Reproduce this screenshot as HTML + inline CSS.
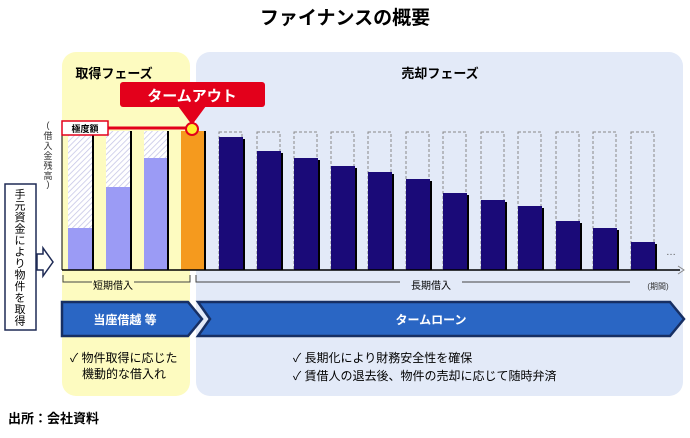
<!DOCTYPE html>
<html><head><meta charset="utf-8"><style>
body{margin:0;width:690px;height:433px;background:#fff;overflow:hidden;font-family:"Liberation Sans","Noto Sans CJK JP",sans-serif}
</style></head><body>
<svg width="690" height="433" viewBox="0 0 690 433" xmlns="http://www.w3.org/2000/svg" font-family="Liberation Sans, Noto Sans CJK JP, sans-serif">
<defs>
<pattern id="h" width="4" height="4" patternUnits="userSpaceOnUse" patternTransform="rotate(45)">
<rect width="4" height="4" fill="#fff"/><line x1="0" y1="0" x2="0" y2="4" stroke="#c4c4e6" stroke-width="1.5"/></pattern>
</defs>
<text x="345" y="24" text-anchor="middle" font-size="19" font-weight="bold">ファイナンスの概要</text>
<rect x="62" y="52" width="128" height="344" rx="14" fill="#fdfbc0"/>
<rect x="196" y="52" width="487" height="344" rx="14" fill="#e3eaf8"/>
<text x="114" y="78" text-anchor="middle" font-size="13" font-weight="bold">取得フェーズ</text>
<text x="440" y="78" text-anchor="middle" font-size="13" font-weight="bold">売却フェーズ</text>
<g font-size="9" fill="#333" text-anchor="middle">
<text x="48" y="128">(</text>
<text x="48" y="139">借</text><text x="48" y="149">入</text><text x="48" y="159">金</text><text x="48" y="169">残</text><text x="48" y="179">高</text><text x="48" y="187">)</text></g>
<line x1="62" y1="125" x2="62" y2="270" stroke="#000" stroke-width="1"/>
<rect x="68" y="131" width="24" height="139" fill="url(#h)"/><rect x="68" y="228" width="24" height="42" fill="#9b9bf5"/>
<rect x="106" y="131" width="24" height="139" fill="url(#h)"/><rect x="106" y="187" width="24" height="83" fill="#9b9bf5"/>
<rect x="144" y="131" width="23" height="139" fill="url(#h)"/><rect x="144" y="158" width="23" height="112" fill="#9b9bf5"/>
<rect x="181" y="131" width="23" height="139" fill="#f59a1e"/>
<g stroke="#000" stroke-width="2"><line x1="93" y1="131" x2="93" y2="270"/><line x1="131" y1="131" x2="131" y2="270"/><line x1="168" y1="131" x2="168" y2="270"/><line x1="205" y1="131" x2="205" y2="270"/></g>
<g fill="none" stroke="#888" stroke-dasharray="3,2">
<rect x="219" y="132" width="23" height="138"/><rect x="257" y="132" width="23" height="138"/><rect x="294" y="132" width="23" height="138"/><rect x="331" y="132" width="23" height="138"/><rect x="368" y="132" width="23" height="138"/><rect x="406" y="132" width="23" height="138"/><rect x="443" y="132" width="23" height="138"/><rect x="481" y="132" width="23" height="138"/><rect x="518" y="132" width="23" height="138"/><rect x="556" y="132" width="23" height="138"/><rect x="593" y="132" width="23" height="138"/><rect x="631" y="132" width="23" height="138"/></g>
<g fill="#000">
<rect x="221" y="139" width="24" height="131"/><rect x="259" y="153" width="24" height="117"/><rect x="296" y="160" width="24" height="110"/><rect x="333" y="168" width="24" height="102"/><rect x="370" y="174" width="24" height="96"/><rect x="408" y="181" width="24" height="89"/><rect x="445" y="195" width="24" height="75"/><rect x="483" y="202" width="24" height="68"/><rect x="520" y="208" width="24" height="62"/><rect x="558" y="223" width="24" height="47"/><rect x="595" y="230" width="24" height="40"/><rect x="633" y="244" width="24" height="26"/></g>
<g fill="#1a0a78">
<rect x="219" y="137" width="24" height="133"/><rect x="257" y="151" width="24" height="119"/><rect x="294" y="158" width="24" height="112"/><rect x="331" y="166" width="24" height="104"/><rect x="368" y="172" width="24" height="98"/><rect x="406" y="179" width="24" height="91"/><rect x="443" y="193" width="24" height="77"/><rect x="481" y="200" width="24" height="70"/><rect x="518" y="206" width="24" height="64"/><rect x="556" y="221" width="24" height="49"/><rect x="593" y="228" width="24" height="42"/><rect x="631" y="242" width="24" height="28"/></g>
<text x="666" y="255" font-size="10" fill="#555">…</text>
<line x1="62" y1="270" x2="680" y2="270" stroke="#000" stroke-width="1.5"/>
<path d="M678 266 L684 270 L678 274" fill="none" stroke="#888"/>
<line x1="108" y1="128" x2="190" y2="128" stroke="#e3001b" stroke-width="3"/>
<rect x="62" y="121" width="46" height="14" fill="#fff" stroke="#e3001b" stroke-width="1.5"/>
<text x="85" y="132" text-anchor="middle" font-size="9" font-weight="bold">極度額</text>
<rect x="120" y="82" width="145" height="25" rx="3" fill="#e3001b"/>
<path d="M178 106 L192 125 L206 106 Z" fill="#e3001b"/>
<circle cx="192" cy="129" r="6" fill="#ffee33" stroke="#e3001b" stroke-width="2"/>
<text x="192" y="101" text-anchor="middle" font-size="15" font-weight="bold" fill="#fff">タームアウト</text>
<g stroke="#444" fill="none" stroke-width="1">
<path d="M63 275 V282 H92 M134 282 H190 V275"/>
<path d="M196 275 V282 H400 M462 282 H630"/></g>
<text x="113" y="289" text-anchor="middle" font-size="10">短期借入</text>
<text x="431" y="289" text-anchor="middle" font-size="10">長期借入</text>
<text x="658" y="289" text-anchor="middle" font-size="8" fill="#333">(期間)</text>
<path d="M62 302 H188 L202 319 L188 336 H62 Z" fill="#2a66c4" stroke="#172f63" stroke-width="2.5"/>
<path d="M198 302 H670 L684 319 L670 336 H198 L210 319 Z" fill="#2a66c4" stroke="#172f63" stroke-width="2.5"/>
<text x="125" y="324" text-anchor="middle" font-size="12" font-weight="bold" fill="#fff">当座借越 等</text>
<text x="431" y="324" text-anchor="middle" font-size="12" font-weight="bold" fill="#fff">タームローン</text>
<text x="70" y="362" font-size="12">✓ 物件取得に応じた</text>
<text x="82" y="378" font-size="12">機動的な借入れ</text>
<text x="293" y="362" font-size="12">✓ 長期化により財務安全性を確保</text>
<text x="293" y="380" font-size="12">✓ 賃借人の退去後、物件の売却に応じて随時弁済</text>
<rect x="5" y="184" width="31" height="146" fill="#fff" stroke="#1e2a55" stroke-width="1.5"/>
<path d="M37 254 H43 V248 L53 262 L43 276 V270 H37 Z" fill="#fff" stroke="#1e2a55" stroke-width="1.5"/>
<g font-size="11" text-anchor="middle">
<text x="20" y="198">手</text><text x="20" y="209.5">元</text><text x="20" y="221">資</text><text x="20" y="232.5">金</text><text x="20" y="244">に</text><text x="20" y="255.5">よ</text><text x="20" y="267">り</text><text x="20" y="278.5">物</text><text x="20" y="290">件</text><text x="20" y="301.5">を</text><text x="20" y="313">取</text><text x="20" y="324.5">得</text></g>
<text x="8" y="423" font-size="13" font-weight="bold">出所：会社資料</text>
</svg>
</body></html>
